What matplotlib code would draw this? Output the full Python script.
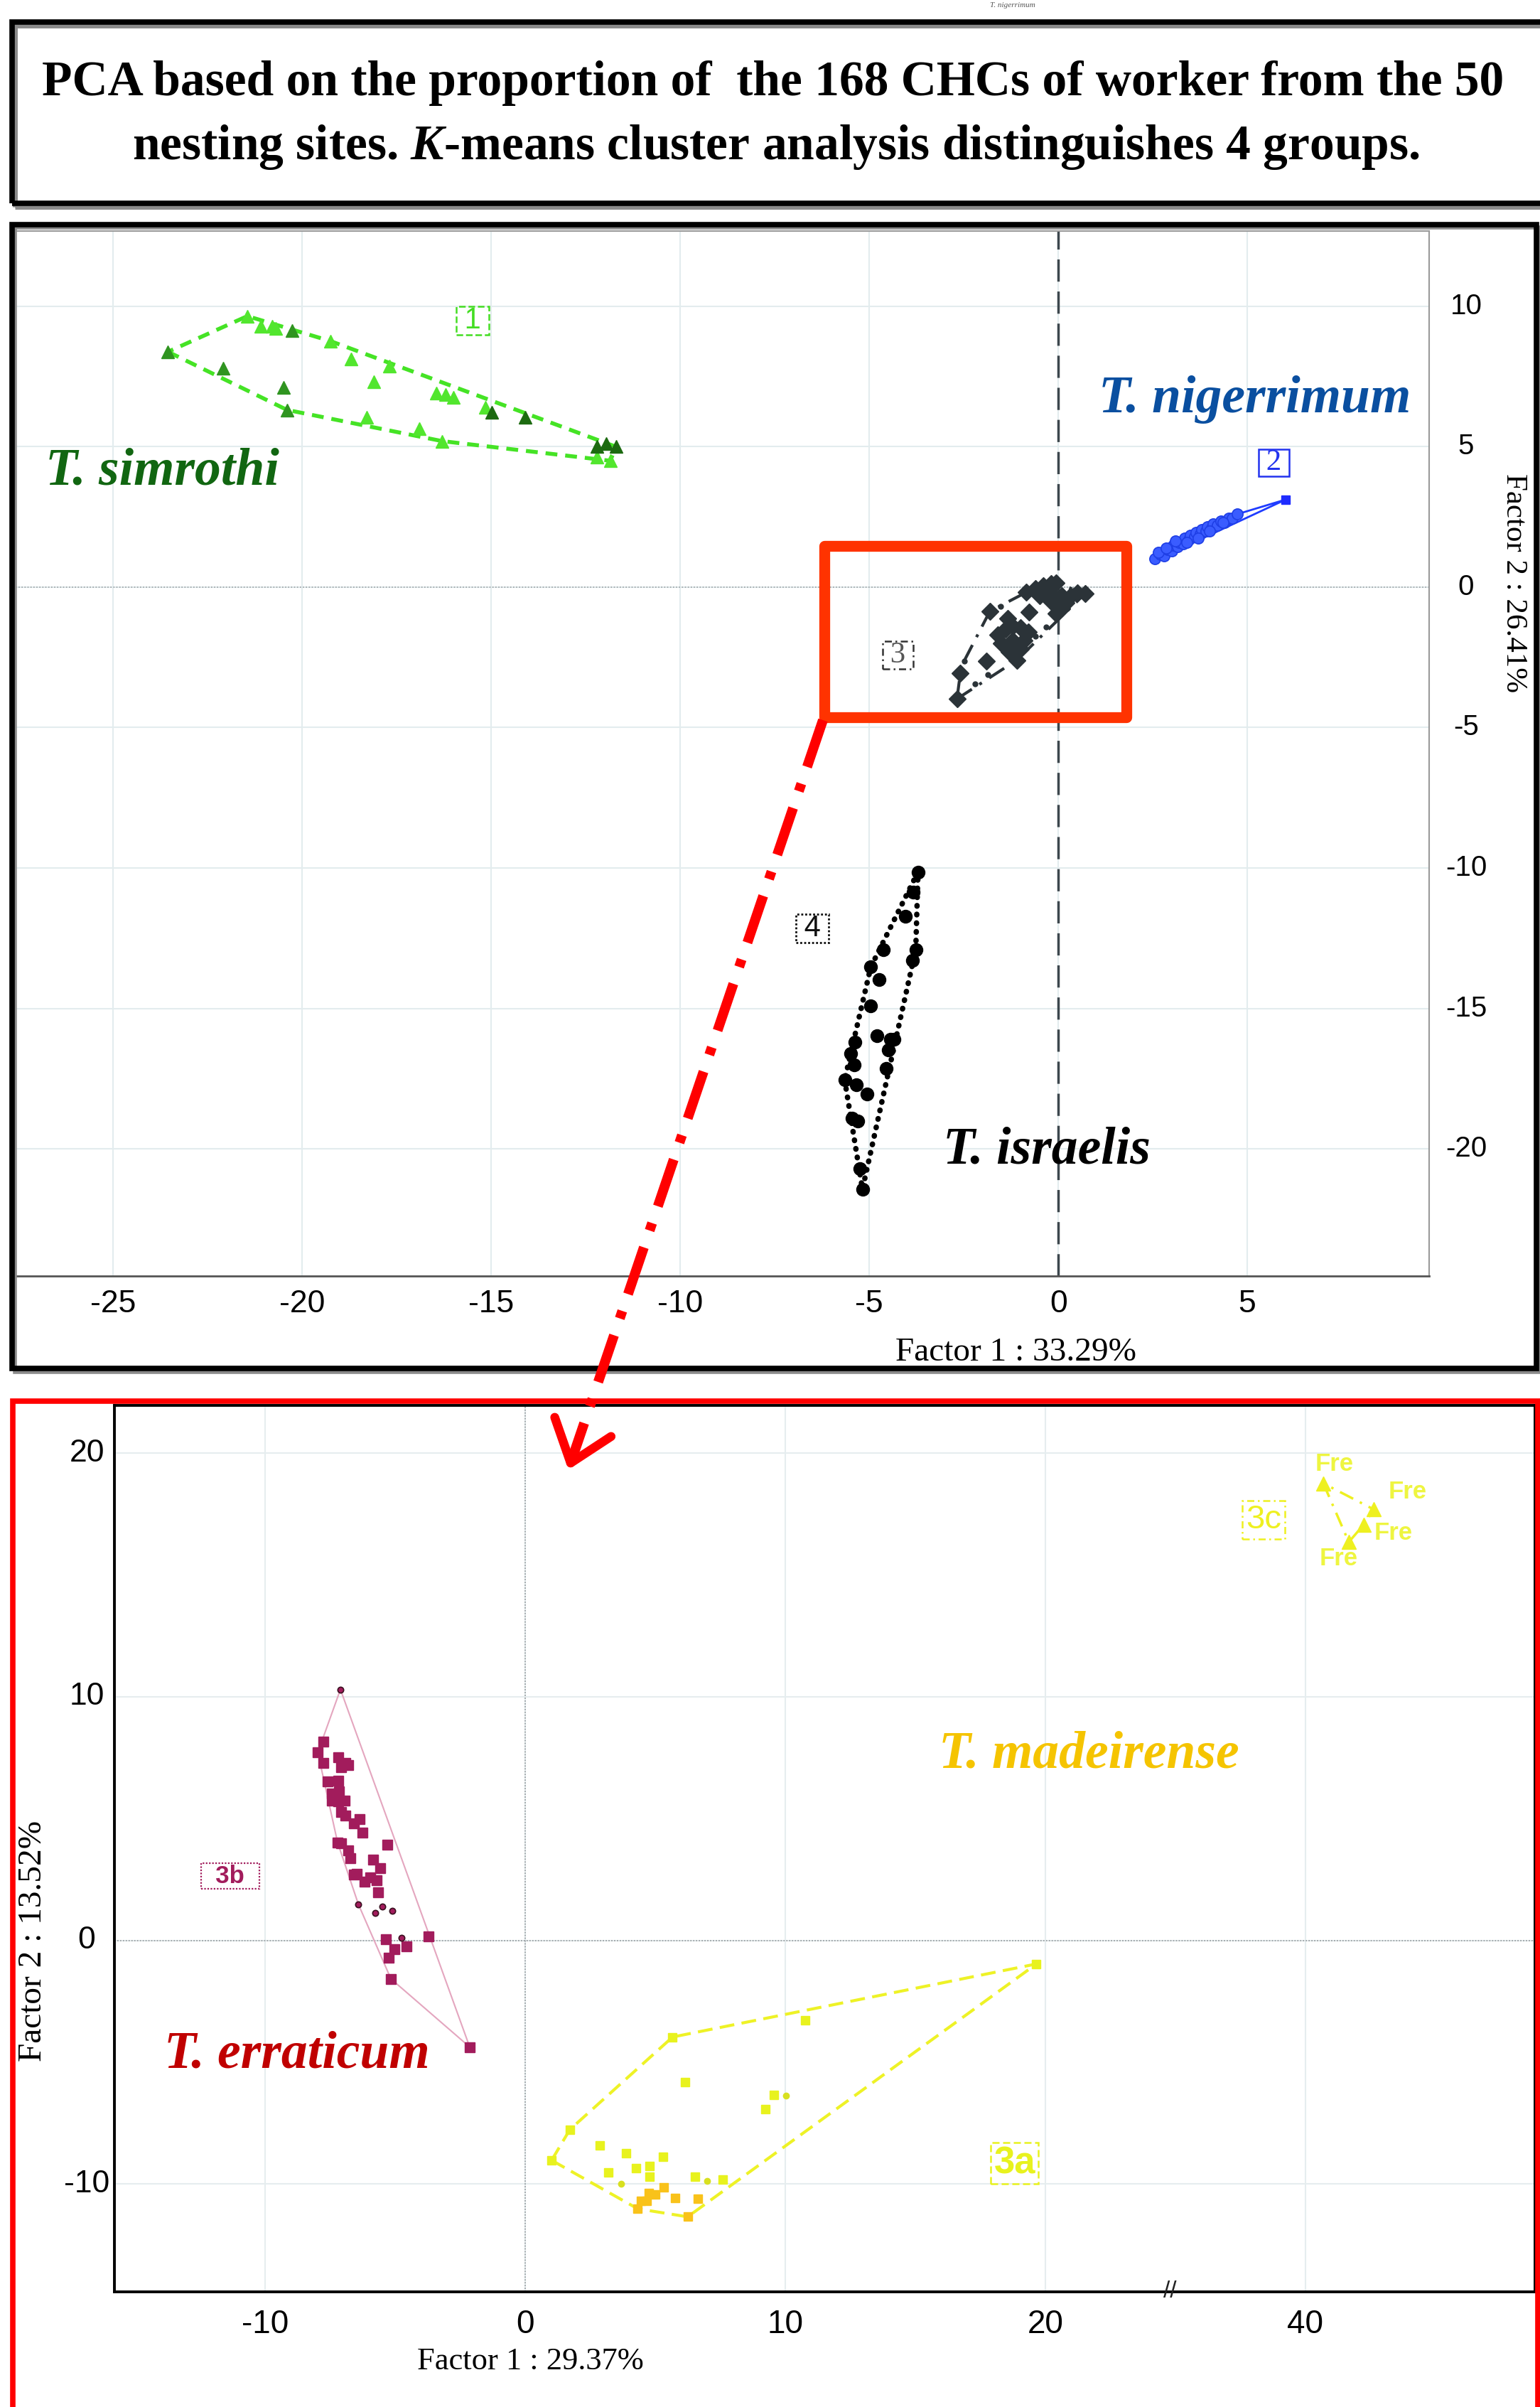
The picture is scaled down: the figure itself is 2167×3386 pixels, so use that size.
import numpy as np
import matplotlib
matplotlib.use("Agg")
import matplotlib.pyplot as plt
from matplotlib.lines import Line2D
from matplotlib.patches import Rectangle

plt.rcParams['font.family'] = ['Liberation Sans', 'DejaVu Sans']
plt.rcParams['axes.unicode_minus'] = False
plt.rcParams['mathtext.fontset'] = 'custom'
plt.rcParams['mathtext.it'] = 'Liberation Serif:italic:bold'
plt.rcParams['mathtext.rm'] = 'Liberation Serif:bold'

# ---------------- data: top PCA (Factor 1 : 33.29%, Factor 2 : 26.41%) ----------------
g1_x = [-23.55, -21.45, -21.1, -20.8, -20.7, -20.27, -19.25, -18.7, -17.7, -22.1, -20.5, -18.1, -20.4,
        -18.3, -16.9, -16.3, -16.45, -16.2, -16.0, -15.15, -14.98, -14.1, -12.2, -11.96, -11.7, -12.2, -11.85]
g1_y = [8.38, 9.65, 9.3, 9.3, 9.2, 9.13, 8.76, 8.13, 7.87, 7.8, 7.1, 7.32, 6.31,
        6.06, 5.64, 5.2, 6.9, 6.87, 6.76, 6.4, 6.23, 6.06, 5.0, 5.1, 5.0, 4.63, 4.5]
g1_sub = [1, 0, 0, 0, 0, 1, 0, 0, 0, 1, 1, 0, 1, 0, 0, 0, 0, 0, 0, 0, 2, 2, 2, 2, 2, 0, 0]

g2_x = [2.55, 2.7, 2.8, 2.9, 3.0, 3.05, 3.15, 3.2, 3.3, 3.35, 3.45, 3.5, 3.6, 3.65, 3.75, 3.8, 3.9,
        3.95, 4.05, 4.1, 4.2, 4.3, 4.4, 4.5, 4.6, 2.65, 2.85, 3.1, 3.4, 3.7, 4.0, 4.35, 4.74, 6.02]
g2_y = [1.0, 1.15, 1.1, 1.35, 1.3, 1.5, 1.45, 1.6, 1.55, 1.75, 1.7, 1.85, 1.8, 1.95, 1.9, 2.05, 2.0,
        2.15, 2.1, 2.25, 2.2, 2.35, 2.3, 2.45, 2.45, 1.25, 1.4, 1.65, 1.6, 1.75, 2.0, 2.3, 2.6, 3.12]

g3_x = [-0.84, -0.6, -0.4, -0.2, -0.06, -0.5, -0.3, -0.1, 0.1, 0.3, 0.5, 0.71, 0.0, 0.2, -0.05, 0.1, -0.2,
        -1.81, -0.77, -1.33, -1.6, -1.4, -1.2, -1.0, -0.8, -1.5, -1.2, -0.9, -1.3, -1.0, -1.1,
        -1.9, -2.59, -2.68]
g3_y = [-0.18, -0.05, 0.05, 0.12, 0.15, -0.3, -0.2, -0.35, -0.3, -0.35, -0.2, -0.23, -0.6, -0.55, -0.94, -0.75, -0.5,
        -0.86, -0.9, -1.11, -1.7, -1.5, -1.4, -1.45, -1.6, -2.0, -1.9, -1.9, -2.3, -2.2, -2.6,
        -2.63, -3.06, -3.98]
g3s_x = [-1.52, -0.32, -0.61, -2.49, -1.87, -2.2, 0.39]
g3s_y = [-0.69, -1.41, -1.75, -2.63, -3.12, -3.45, -0.14]

g4_x = [-3.71, -3.83, -4.05, -3.77, -3.86, -4.62, -4.96, -4.74, -4.96, -4.8, -4.43, -4.34, -4.49, -5.37,
        -5.49, -5.4, -4.55, -5.65, -5.34, -5.06, -5.46, -5.3, -5.24, -5.18]
g4_y = [-10.14, -10.86, -11.72, -12.9, -13.3, -12.9, -13.53, -13.98, -14.9, -15.97, -16.1, -16.1, -16.47, -16.2,
        -16.6, -17.0, -17.14, -17.55, -17.73, -18.05, -18.9, -19.0, -20.72, -21.44]

# ---------------- data: bottom PCA of group 3 (Factor 1 : 29.37%, Factor 2 : 13.52%) ----------------
g3b_x = [-7.76, -7.97, -7.76, -7.17, -6.91, -7.08, -6.8, -7.6, -7.17, -7.44, -7.15, -7.43, -7.17, -6.94,
         -7.08, -6.9, -6.58, -6.35, -6.26, -7.21, -7.08, -6.8, -6.72, -5.3, -5.85, -5.57, -6.58, -6.46,
         -6.17, -5.94, -5.71, -5.66, -5.36, -3.72, -4.57, -5.03, -5.25, -5.16, -2.13]
g3b_y = [8.15, 7.71, 7.29, 7.51, 7.29, 7.11, 7.2, 6.52, 6.55, 6.04, 6.1, 5.74, 5.72, 5.74,
         5.27, 5.12, 4.79, 4.97, 4.41, 4.02, 3.99, 3.69, 3.36, 3.93, 3.3, 2.97, 2.71, 2.74,
         2.41, 2.59, 2.47, 1.96, 0.05, 0.17, -0.25, -0.35, -0.72, -1.58, -4.38]
g3b_dot_x = [-7.1, -6.41, -5.76, -5.48, -5.12, -4.75]
g3b_dot_y = [10.3, 1.48, 1.12, 1.4, 1.22, 0.09]

g3a_x = [19.66, 10.76, 5.67, 6.16, 9.57, 9.25, 1.72, 1.02, 2.87, 3.88, 5.31, 4.27, 4.79, 3.2, 4.79,
         6.53, 7.59, 5.32, 4.76, 5.01, 5.77, 6.63, 4.45, 4.68, 4.33, 6.25]
g3a_y = [-0.97, -3.27, -3.97, -5.83, -6.36, -6.94, -7.77, -9.03, -8.43, -8.75, -8.9, -9.35, -9.26, -9.53, -9.69,
         -9.69, -9.81, -10.13, -10.37, -10.44, -10.57, -10.62, -10.69, -10.69, -11.02, -11.35]
g3a_sub = [0] * 17 + [1] * 9
g3a_dot_x = [10.02, 6.99, 3.7]
g3a_dot_y = [-6.39, -9.87, -9.98]

g3c_x = [40.69, 42.63, 42.24, 41.67]
g3c_y = [18.76, 17.69, 17.06, 16.35]
g3c_lab = ["Fre", "Fre", "Fre", "Fre"]

top_xticks = [-25, -20, -15, -10, -5, 0, 5]
top_yticks = [-20, -15, -10, -5, 0, 5, 10]
bot_xticks = [-10, 0, 10, 20, 40]
bot_yticks = [-10, 0, 10, 20]

# ---------------- figure ----------------
W, H = 2167, 3386
fig = plt.figure(figsize=(W / 100, H / 100), dpi=100)
fig.patch.set_facecolor('white')


def fxp(x):
    return x / W


def fyp(y):
    return 1 - y / H


def hull(xs, ys):
    pts = sorted(set(zip(xs, ys)))
    if len(pts) < 3:
        return np.array(pts)

    def cross(o, a, b):
        return (a[0] - o[0]) * (b[1] - o[1]) - (a[1] - o[1]) * (b[0] - o[0])
    lower = []
    for p in pts:
        while len(lower) >= 2 and cross(lower[-2], lower[-1], p) <= 0:
            lower.pop()
        lower.append(p)
    upper = []
    for p in reversed(pts):
        while len(upper) >= 2 and cross(upper[-2], upper[-1], p) <= 0:
            upper.pop()
        upper.append(p)
    h = lower[:-1] + upper[:-1]
    h.append(h[0])
    return np.array(h)


# ---- frames ----
fig.add_artist(Rectangle((fxp(21), fyp(291)), (2190 - 21) / W, (291 - 36) / H, transform=fig.transFigure,
                         fill=False, ec='#8a8a8a', lw=5, zorder=1))
fig.add_artist(Rectangle((fxp(17), fyp(286)), (2190 - 17) / W, (286 - 31) / H, transform=fig.transFigure,
                         fill=False, ec='black', lw=5.5, zorder=1.1))
fig.add_artist(Rectangle((fxp(21), fyp(1930)), (2166 - 21) / W, (1930 - 320) / H, transform=fig.transFigure,
                         fill=False, ec='#8a8a8a', lw=4, zorder=1))
fig.add_artist(Rectangle((fxp(17), fyp(1925)), (2162 - 17) / W, (1925 - 316) / H, transform=fig.transFigure,
                         fill=False, ec='black', lw=5.5, zorder=1.1))
fig.add_artist(Rectangle((fxp(18), fyp(3400)), (2164 - 18) / W, (3400 - 1971) / H, transform=fig.transFigure,
                         fill=False, ec='#ff0000', lw=5.5, zorder=1.1))

# ---- title ----
fig.text(fxp(1088), fyp(117), "PCA based on the proportion of  the 168 CHCs of worker from the 50",
         family='Liberation Serif', weight='bold', fontsize=50, ha='center', va='center')
fig.text(fxp(1092), fyp(207), r"nesting sites. $K$-means cluster analysis distinguishes 4 groups.",
         family='Liberation Serif', weight='bold', fontsize=50, ha='center', va='center')
fig.text(fxp(1425), fyp(7), "T. nigerrimum", family='Liberation Serif', style='italic', fontsize=8,
         ha='center', va='center', color='#555555')

# ================= TOP PANEL =================
ax1 = fig.add_axes([fxp(22), fyp(1795), (2011 - 22) / W, (1795 - 325) / H])
ax1.set_xlim(-27.58, 9.81)
ax1.set_ylim(-24.53, 12.68)
ax1.set_xticks(top_xticks)
ax1.set_yticks(top_yticks)
ax1.grid(True, color='#e3ecee', lw=1.5, zorder=0)
ax1.set_axisbelow(True)
ax1.tick_params(axis='both', length=0)
ax1.tick_params(axis='x', labelsize=32, pad=14)
ax1.tick_params(axis='y', labelleft=False, labelright=False)
for s in ax1.spines.values():
    s.set_color('#9a9a9a')
    s.set_linewidth(1.5)
ax1.spines['bottom'].set_color('#555555')
ax1.spines['bottom'].set_linewidth(2)
for v in top_yticks:
    ax1.text((2063 - 22) / (2011 - 22), v, f"{v}", transform=ax1.get_yaxis_transform(),
             ha='center', va='center', fontsize=29, clip_on=False)
ax1.axhline(0, color='#9aa0a3', lw=1.2, ls=(0, (1, 1.5)), zorder=1)
ax1.axvline(0, color='#3d474d', lw=2.5, ls=(0, (9, 4)), zorder=1)

# group 1
g1_cols = ['#52e62e', '#2f9420', '#1c6a10']
h1 = hull(g1_x, g1_y)
ax1.plot(h1[:, 0], h1[:, 1], color='#45e325', lw=4, ls=(0, (3, 2)), zorder=2)
for k in range(3):
    xs = [x for x, s in zip(g1_x, g1_sub) if s == k]
    ys = [y for y, s in zip(g1_y, g1_sub) if s == k]
    ax1.plot(xs, ys, ls='none', marker='^', ms=13, color=g1_cols[k], mec=g1_cols[k], zorder=3)
ax1.text(-15.49, 9.49, " 1 ", color='#44dd22', fontsize=30, ha='center', va='center',
         bbox=dict(boxstyle='square,pad=0.0', fc='none', ec='#44dd22', ls='--', lw=1.8))

# group 2
h2 = hull(g2_x, g2_y)
ax1.plot(h2[:, 0], h2[:, 1], color='#1f3cff', lw=2, zorder=2)
ax1.plot(g2_x[:-1], g2_y[:-1], ls='none', marker='o', ms=11, mfc='#3a5cff', mec='#1f3fe6', mew=1.2, zorder=3)
ax1.plot(g2_x[-1:], g2_y[-1:], ls='none', marker='s', ms=8, color='#1f2cff', zorder=3)
ax1.text(5.71, 4.43, " 2 ", color='#2233ee', fontsize=31, family='Liberation Serif', ha='center', va='center',
         bbox=dict(boxstyle='square,pad=0.0', fc='none', ec='#2233ee', lw=1.8))

# group 3
h3 = hull(g3_x + g3s_x, g3_y + g3s_y)
ax1.plot(h3[:, 0], h3[:, 1], color='#2b3338', lw=3, ls=(0, (6, 3, 1, 3)), zorder=2)
ax1.plot(g3_x, g3_y, ls='none', marker='D', ms=12, color='#2b3338', zorder=3)
ax1.plot(g3s_x, g3s_y, ls='none', marker='o', ms=5, color='#2b3338', zorder=3)
ax1.text(-4.24, -2.42, " 3 ", color='#555555', fontsize=31, family='Liberation Serif', ha='center', va='center',
         bbox=dict(boxstyle='square,pad=0.0', fc='none', ec='#333333', lw=1.8, ls=(0, (4, 2, 1, 2))))

# group 4
h4 = hull(g4_x, g4_y)
ax1.plot(h4[:, 0], h4[:, 1], color='black', lw=5.5, ls=(0, (0.1, 1.5)), dash_capstyle='round', zorder=2)
ax1.plot(g4_x, g4_y, ls='none', marker='o', ms=13, color='black', zorder=3)
ax1.text(-6.51, -12.16, " 4 ", color='#111111', fontsize=30, ha='center', va='center',
         bbox=dict(boxstyle='square,pad=0.0', fc='none', ec='#111111', lw=2, ls=(0, (1, 1))))

# species names top
ax1.text(-23.7, 3.65, "T. simrothi", color='#116611', fontsize=53, family='Liberation Serif',
         weight='bold', style='italic', ha='center', va='baseline')
ax1.text(5.19, 6.23, "T. nigerrimum", color='#0a4fa0', fontsize=53, family='Liberation Serif',
         weight='bold', style='italic', ha='center', va='baseline')
ax1.text(-0.3, -20.53, "T. israelis", color='black', fontsize=53, family='Liberation Serif',
         weight='bold', style='italic', ha='center', va='baseline')

# zoom rectangle
ax1.add_patch(Rectangle((-6.18, -4.63), 1.80 + 6.18, 1.47 + 4.63, fill=False, ec='#ff3300', lw=11,
                        joinstyle='round', zorder=4))

fig.text(fxp(1430), fyp(1903), "Factor 1 : 33.29%", family='Liberation Serif', fontsize=34,
         ha='center', va='center')
fig.text(fxp(2130), fyp(820), "Factor 2 : 26.41%", family='Liberation Serif', fontsize=31,
         ha='center', va='center', rotation=270)

# ================= BOTTOM PANEL =================
ax2 = fig.add_axes([fxp(161), fyp(3224), (2160 - 161) / W, (3224 - 1977) / H])


def fwd(x):
    x = np.asarray(x, dtype=float)
    return np.where(x <= 25, x, np.where(x >= 35, x - 10, 25.0))


def inv(y):
    y = np.asarray(y, dtype=float)
    return np.where(y <= 25, y, y + 10)


ax2.set_xscale('function', functions=(fwd, inv))
ax2.set_xlim(-15.79, 48.83)
ax2.set_ylim(-14.43, 21.96)
ax2.set_xticks(bot_xticks)
ax2.set_xticklabels([str(v) for v in bot_xticks])
ax2.set_yticks(bot_yticks)
ax2.grid(True, color='#e6edef', lw=1.5, zorder=0)
ax2.set_axisbelow(True)
ax2.tick_params(axis='both', length=0)
ax2.tick_params(axis='x', labelsize=33, pad=17)
ax2.tick_params(axis='y', labelleft=False)
for v in bot_yticks:
    ax2.text((122 - 161) / (2160 - 161), v, f"{v}", transform=ax2.get_yaxis_transform(),
             ha='center', va='center', fontsize=32, clip_on=False)
for s in ax2.spines.values():
    s.set_color('black')
    s.set_linewidth(2.8)
ax2.axhline(0, color='#9aa0a3', lw=1.3, ls=(0, (1, 1.2)), zorder=1)
ax2.axvline(0, color='#9aa0a3', lw=1.3, ls=(0, (1, 1.2)), zorder=1)
ax2.text(24.8, 0, "//", transform=ax2.get_xaxis_transform(), fontsize=24, ha='center', va='center',
         color='#222222', clip_on=False, zorder=6)

# group 3b
h3b = hull(g3b_x + g3b_dot_x, g3b_y + g3b_dot_y)
ax2.plot(h3b[:, 0], h3b[:, 1], color='#e4a6bf', lw=1.5, zorder=2)
ax2.plot(g3b_x, g3b_y, ls='none', marker='s', ms=10, color='#a21c5c', zorder=3)
ax2.plot(g3b_dot_x, g3b_dot_y, ls='none', marker='o', ms=6, mfc='#a21c5c', mec='#3a1020', mew=1.2, zorder=3)
ax2.text(-11.34, 2.64, "  3b  ", color='#a21c5c', fontsize=25, weight='bold', ha='center', va='center',
         bbox=dict(boxstyle='square,pad=0.05', fc='none', ec='#a21c5c', lw=1.6, ls=(0, (1, 1))))

# group 3a
h3a = hull(g3a_x + g3a_dot_x, g3a_y + g3a_dot_y)
ax2.plot(h3a[:, 0], h3a[:, 1], color='#eef226', lw=3, ls=(0, (5, 2.5)), zorder=2)
a_cols = ['#e8f21e', '#f9c21a']
for k in range(2):
    xs = [x for x, s in zip(g3a_x, g3a_sub) if s == k]
    ys = [y for y, s in zip(g3a_y, g3a_sub) if s == k]
    ax2.plot(xs, ys, ls='none', marker='s', ms=9, color=a_cols[k], zorder=3)
ax2.plot(g3a_dot_x, g3a_dot_y, ls='none', marker='o', ms=6, color='#d8e020', zorder=3)
ax2.text(18.82, -9.15, "3a", color='#e8f21e', fontsize=38, weight='bold', ha='center', va='center',
         bbox=dict(boxstyle='square,pad=0.08', fc='none', ec='#e8f21e', lw=1.8, ls=(0, (4, 2))))

# group 3c
h3c = hull(g3c_x, g3c_y)
ax2.plot(h3c[:, 0], h3c[:, 1], color='#eef020', lw=2.5, ls=(0, (6, 3, 1, 3)), zorder=2)
ax2.plot(g3c_x, g3c_y, ls='none', marker='^', ms=14, color='#eef020', zorder=3)
fre_off = [(16, 27), (48, 25), (42, -12), (-14, -23)]
for x, y, t, off in zip(g3c_x, g3c_y, g3c_lab, fre_off):
    ax2.annotate(t, (x, y), xytext=(off[0] / 1.389, off[1] / 1.389), textcoords='offset points',
                 color='#eef540', fontsize=25, weight='bold', ha='center', va='center')
ax2.text(38.39, 17.26, "3c", color='#eef020', fontsize=34, ha='center', va='center',
         bbox=dict(boxstyle='square,pad=0.1', fc='none', ec='#eef020', lw=1.8, ls=(0, (4, 2, 1, 2))))

# species names bottom
ax2.text(-8.77, -5.21, "T. erraticum", color='#c00000', fontsize=53, family='Liberation Serif',
         weight='bold', style='italic', ha='center', va='baseline')
ax2.text(21.67, 7.08, "T. madeirense", color='#f5c400', fontsize=53, family='Liberation Serif',
         weight='bold', style='italic', ha='center', va='baseline')

fig.text(fxp(746), fyp(3322), "Factor 1 : 29.37%", family='Liberation Serif', fontsize=32,
         ha='center', va='center')
fig.text(fxp(47), fyp(2730), "Factor 2 : 13.52%", family='Liberation Serif', fontsize=34,
         ha='center', va='center', rotation=90)

# ---- red dash-dot arrow linking the panels ----
x0, y0, x1, y1 = 1158, 1013, 803, 2058
fig.add_artist(Line2D([fxp(x0), fxp(x1)], [fyp(y0), fyp(y1)], transform=fig.transFigure,
                      color='#ff0000', lw=10, ls=(0, (5, 1.8, 0.8, 1.8)), zorder=8))
d = np.array([x0 - x1, y0 - y1], dtype=float)
d /= np.hypot(*d)
for ang in (np.radians(38), np.radians(-38)):
    rot = np.array([[np.cos(ang), -np.sin(ang)], [np.sin(ang), np.cos(ang)]])
    e = rot @ d * 68
    fig.add_artist(Line2D([fxp(x1), fxp(x1 + e[0])], [fyp(y1), fyp(y1 + e[1])], transform=fig.transFigure,
                          color='#ff0000', lw=9, solid_capstyle='round', zorder=8))

fig.savefig("out.png", dpi=100)
